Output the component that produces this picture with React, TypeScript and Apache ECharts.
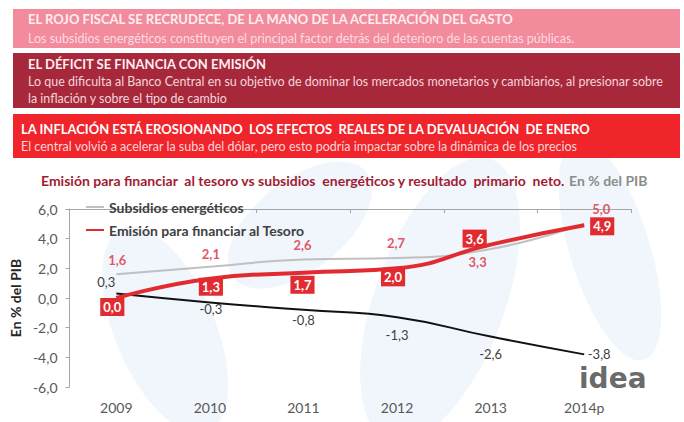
import React, { useEffect, useRef } from 'react';
import * as echarts from 'echarts';

const years = ['2009', '2010', '2011', '2012', '2013', '2014p'];
const subsidios = [1.6, 2.1, 2.6, 2.7, 3.3, 5.0];
const emision = [0.0, 1.3, 1.7, 2.0, 3.6, 4.9];
const resultado = [0.3, -0.3, -0.8, -1.3, -2.6, -3.8];
const seriesNames = ['Subsidios energéticos', 'Emisión para financiar al Tesoro', 'Resultado primario neto'];

const bannerTitles = [
  'EL ROJO FISCAL SE RECRUDECE, DE LA MANO DE LA ACELERACIÓN DEL GASTO',
  'EL DÉFICIT SE FINANCIA CON EMISIÓN',
  'LA INFLACIÓN ESTÁ EROSIONANDO  LOS EFECTOS  REALES DE LA DEVALUACIÓN  DE ENERO',
];
const bannerTexts = [
  ['Los subsidios energéticos constituyen el principal factor detrás del deterioro de las cuentas públicas.'],
  ['Lo que dificulta al Banco Central en su objetivo de dominar los mercados monetarios y cambiarios, al presionar sobre', 'la inflación y sobre el tipo de cambio'],
  ['El central volvió a acelerar la suba del dólar, pero esto podría impactar sobre la dinámica de los precios'],
];
const chartTitle = 'Emisión para financiar  al tesoro vs subsidios  energéticos y resultado  primario  neto.';
const chartUnit = 'En % del PIB';
const logoText = 'idea';

// label placement (styling)
const grayOff = [[1, -14], [1, -13], [-1, -14], [-1, -15], [-13, 13], [17, -15]];
const redOff = [[-4, 9], [1, 8], [-1, 12], [-4, 9], [-16, -6], [18, 1]];
const blackOff = [[-10, -12], [1, 7], [0, 10], [0, 18], [0, 17], [15, 0]];

const FONT = 'Lato, "Open Sans", sans-serif';
const fmt = (v: number) => v.toFixed(1).replace('.', ',');

const bannerBoxes = [
  { y: 9, h: 39, fill: '#f28b9b', title: '#fdeef1', text: '#fcdbe1', titleY: 19, textY: [38] },
  { y: 53, h: 55, fill: '#a8283b', title: '#fbeef0', text: '#f3d5da', titleY: 64, textY: [81, 98] },
  { y: 114, h: 44, fill: '#f0242b', title: '#ffffff', text: '#fcd6d6', titleY: 129, textY: [146] },
];

export default function App() {
  const ref = useRef<HTMLDivElement>(null);
  useEffect(() => {
    if (!ref.current) return;
    const chart = echarts.init(ref.current, undefined, { renderer: 'svg' });
    const graphics: any[] = [];
    // faint watermark shapes
    const wm = [
      { cx: 440, cy: 300, rx: 65, ry: 150, rot: -0.35 },
      { cx: 165, cy: 330, rx: 50, ry: 110, rot: 0.4 },
      { cx: 300, cy: 225, rx: 45, ry: 85, rot: -0.9 },
      { cx: 610, cy: 250, rx: 40, ry: 115, rot: 0.3 },
    ];
    wm.forEach((w) => {
      graphics.push({
        type: 'ellipse', x: w.cx, y: w.cy, rotation: w.rot, z: -10,
        shape: { cx: 0, cy: 0, rx: w.rx, ry: w.ry },
        style: { fill: '#f0f6fb' }, silent: true,
      });
    });
    bannerBoxes.forEach((b, i) => {
      graphics.push({ type: 'rect', z: 1, shape: { x: 13, y: b.y, width: 667, height: b.h }, style: { fill: b.fill } });
      graphics.push({
        type: 'text', z: 2, x: i === 2 ? 21 : 28, y: b.titleY,
        style: { text: bannerTitles[i], fill: b.title, fontFamily: FONT, fontSize: 13, fontWeight: 'bold', verticalAlign: 'middle' },
      });
      bannerTexts[i].forEach((t, j) => {
        graphics.push({
          type: 'text', z: 2, x: i === 2 ? 21 : 28, y: b.textY[j],
          style: { text: t, fill: b.text, fontFamily: FONT, fontSize: 12.5, verticalAlign: 'middle' },
        });
      });
    });
    graphics.push({
      type: 'text', z: 2, x: 41, y: 180,
      style: {
        text: `{a|${chartTitle}} {b|${chartUnit}}`,
        verticalAlign: 'middle',
        rich: {
          a: { fill: '#a11c33', fontFamily: FONT, fontSize: 14, fontWeight: 'bold' },
          b: { fill: '#8c8c8c', fontFamily: FONT, fontSize: 14, fontWeight: 'bold' },
        },
      },
    });
    graphics.push({
      type: 'text', z: 2, x: 579, y: 378,
      style: { text: logoText, fill: '#6b6b6b', fontFamily: '"DejaVu Sans", sans-serif', fontSize: 28, fontWeight: 'bold', verticalAlign: 'middle' },
    });

    const mk = (vals: number[], offs: number[][]) => vals.map((v, i) => ({ value: v, label: { offset: offs[i] } }));
    const hidden = { color: 'transparent', borderColor: 'transparent', borderWidth: 0 };

    chart.setOption({
      animation: false,
      backgroundColor: '#ffffff',
      textStyle: { fontFamily: FONT },
      graphic: graphics,
      grid: { left: 68, right: 53, top: 209, bottom: 35 },
      legend: {
        data: [seriesNames[0], seriesNames[1]],
        orient: 'vertical', left: 85, top: 200, padding: 0, itemWidth: 18, itemHeight: 14, itemGap: 9,
        itemStyle: hidden,
        textStyle: { fontFamily: FONT, fontSize: 14, fontWeight: 'bold', color: '#404040' },
      },
      xAxis: [
        {
          type: 'category', data: years, position: 'bottom',
          axisLine: { show: false }, axisTick: { show: false },
          axisLabel: { color: '#595959', fontSize: 14, margin: 13, fontFamily: FONT },
        },
        {
          type: 'category', data: years, position: 'top',
          axisLine: { show: true, onZero: true, lineStyle: { color: '#a6a6a6', width: 1 } },
          axisTick: { show: true, inside: true, length: 4, lineStyle: { color: '#a6a6a6' } },
          axisLabel: { show: false },
        },
      ],
      yAxis: {
        type: 'value', min: -6, max: 6, interval: 2,
        axisLine: { show: true, onZero: false, lineStyle: { color: '#a6a6a6' } },
        axisTick: { show: true, length: 4, lineStyle: { color: '#a6a6a6' } },
        splitLine: { show: false },
        axisLabel: { formatter: (v: number) => fmt(v), color: '#595959', fontSize: 14, margin: 12, fontFamily: FONT },
        name: 'En % del PIB', nameLocation: 'middle', nameGap: 45, nameRotate: 90,
        nameTextStyle: { fontWeight: 'bold', fontSize: 14, color: '#262626', fontFamily: FONT },
      },
      series: [
        {
          name: seriesNames[0], type: 'line', smooth: true, symbol: 'circle', symbolSize: 2, z: 2,
          data: mk(subsidios, grayOff),
          lineStyle: { color: '#c0c0c0', width: 2 }, itemStyle: hidden,
          label: { show: true, position: 'inside', formatter: (p: any) => fmt(p.value), color: '#e0576a', fontWeight: 'bold', fontSize: 13, fontFamily: FONT },
        },
        {
          name: seriesNames[2], type: 'line', smooth: true, symbol: 'circle', symbolSize: 2, z: 3,
          data: mk(resultado, blackOff),
          lineStyle: { color: '#111111', width: 2 }, itemStyle: hidden,
          label: { show: true, position: 'inside', formatter: (p: any) => fmt(p.value), color: '#404040', fontSize: 13, fontFamily: FONT },
        },
        {
          name: seriesNames[1], type: 'line', smooth: true, symbol: 'circle', symbolSize: 2, z: 4,
          data: mk(emision, redOff),
          lineStyle: { color: '#e22b30', width: 4 }, itemStyle: hidden,
          label: {
            show: true, position: 'inside', formatter: (p: any) => fmt(p.value), color: '#ffffff', fontWeight: 'bold', fontSize: 13, fontFamily: FONT,
            backgroundColor: '#e22b30', padding: [3, 3, 2, 3],
          },
        },
      ],
    });
    return () => chart.dispose();
  }, []);
  return <div ref={ref} style={{ position: 'absolute', left: 0, top: 0, width: 684, height: 422 }} />;
}
